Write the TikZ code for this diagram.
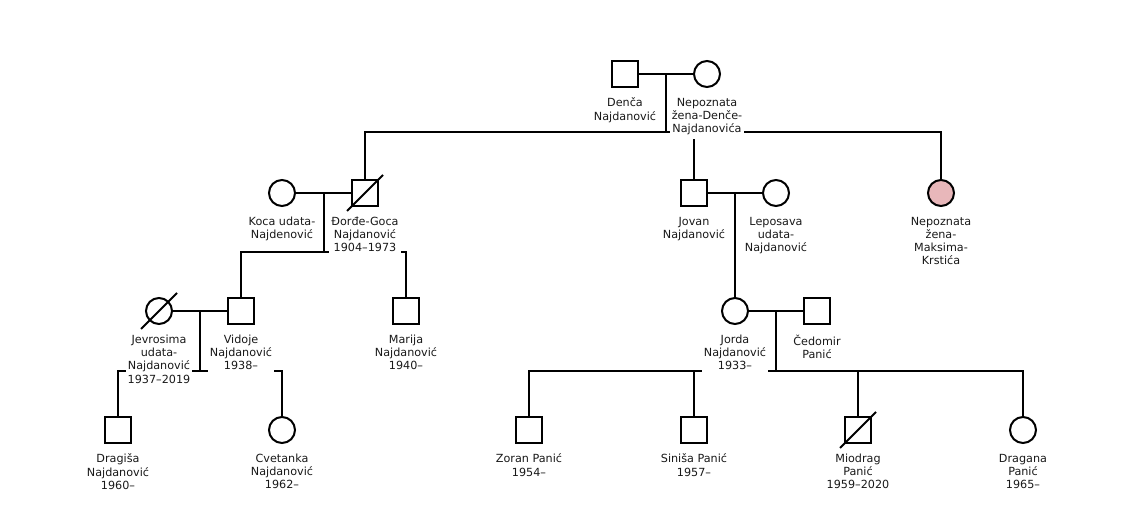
\documentclass[tikz,border=0pt]{standalone}
\usepackage{fontspec}
\setmainfont{DejaVu Sans}
\definecolor{pinkf}{RGB}{232,183,186}
\begin{document}
\begin{tikzpicture}[x=0.75pt,y=-0.75pt,
  line width=1.5pt,
  male/.style={draw=black,rectangle,minimum size=19.5pt,inner sep=0pt,line width=1.5pt},
  female/.style={draw=black,circle,minimum size=19.5pt,inner sep=0pt,line width=1.5pt},
  lbl/.style={fill=white,align=center,inner xsep=1.5pt,inner ysep=1.5pt,anchor=north,
    font=\fontsize{8.4}{9.9}\selectfont,text=black!90},
  rel/.style={draw=black,line width=1.5pt},
  dead/.style={draw=black,line width=1.5pt}]
\useasboundingbox (0,0) rectangle (1140,506);

% persons
\node[male] (denca) at (625,74) {};
\node[female] (nep) at (707,74) {};
\node[female] (koca) at (282,193) {};
\node[male] (djordje) at (365,193) {};
\node[male] (jovan) at (694,193) {};
\node[female] (lepo) at (776,193) {};
\node[female,fill=pinkf] (nepm) at (941,193) {};
\node[female] (jevro) at (159,311) {};
\node[male] (vidoje) at (241,311) {};
\node[male] (marija) at (406,311) {};
\node[female] (jorda) at (735,311) {};
\node[male] (cedomir) at (817,311) {};
\node[male] (dragisa) at (118,430) {};
\node[female] (cvetanka) at (282,430) {};
\node[male] (zoran) at (529,430) {};
\node[male] (sinisa) at (694,430) {};
\node[male] (miodrag) at (858,430) {};
\node[female] (dragana) at (1023,430) {};

% junctions
\coordinate (m1) at (666,74);
\coordinate (b1) at (666,132);
\coordinate (m2) at (324,193);
\coordinate (b2) at (324,252);
\coordinate (m3) at (735,193);
\coordinate (m4) at (200,311);
\coordinate (b4) at (200,371);
\coordinate (m5) at (776,311);
\coordinate (b5) at (776,371);

% connectors
\draw[rel] (denca) -- (nep);
\draw[rel] (m1) -- (b1);
\draw[rel] (djordje.north) |- (b1) -| (nepm.north);
\draw[rel] (jovan.north) -- (jovan.north |- b1);

\draw[rel] (koca) -- (djordje);
\draw[rel] (m2) -- (b2);
\draw[rel] (vidoje.north) |- (b2) -| (marija.north);

\draw[rel] (jovan) -- (lepo);
\draw[rel] (m3) -- (jorda.north);

\draw[rel] (jevro) -- (vidoje);
\draw[rel] (m4) -- (b4);
\draw[rel] (dragisa.north) |- (b4) -| (cvetanka.north);

\draw[rel] (jorda) -- (cedomir);
\draw[rel] (m5) -- (b5);
\draw[rel] (zoran.north) |- (b5) -| (dragana.north);
\draw[rel] (sinisa.north) -- (sinisa.north |- b5);
\draw[rel] (miodrag.north) -- (miodrag.north |- b5);

% labels
\node[lbl] (ldenca) at (625,95) {Denča\\Najdanović\strut};
\node[lbl] (lnep) at (707,95) {Nepoznata\\žena-Denče-\\Najdanovića\strut};
\node[lbl] (lkoca) at (282,214) {Koca udata-\\Najdenović\strut};
\node[lbl] (ldjordje) at (365,214) {Đorđe-Goca\\Najdanović\\1904–1973\strut};
\node[lbl] (ljovan) at (694,214) {Jovan\\Najdanović\strut};
\node[lbl] (llepo) at (776,214) {Leposava\\udata-\\Najdanović\strut};
\node[lbl] (lnepm) at (941,214) {Nepoznata\\žena-\\Maksima-\\Krstića\strut};
\node[lbl] (ljevro) at (159,332) {Jevrosima\\udata-\\Najdanović\\1937–2019\strut};
\node[lbl] (lvidoje) at (241,332) {Vidoje\\Najdanović\\1938–\strut};
\node[lbl] (lmarija) at (406,332) {Marija\\Najdanović\\1940–\strut};
\node[lbl] (ljorda) at (735,332) {Jorda\\Najdanović\\1933–\strut};
\node[lbl] (lcedomir) at (817,332) {Čedomir\\Panić\strut};
\node[lbl] (ldragisa) at (118,451) {Dragiša\\Najdanović\\1960–\strut};
\node[lbl] (lcvetanka) at (282,451) {Cvetanka\\Najdanović\\1962–\strut};
\node[lbl] (lzoran) at (529,451) {Zoran Panić\\1954–\strut};
\node[lbl] (lsinisa) at (694,451) {Siniša Panić\\1957–\strut};
\node[lbl] (lmiodrag) at (858,451) {Miodrag\\Panić\\1959–2020\strut};
\node[lbl] (ldragana) at (1023,451) {Dragana\\Panić\\1965–\strut};

% deceased marks
\draw[dead] ([shift={(-18,18)}]djordje.center) -- ([shift={(18,-18)}]djordje.center);
\draw[dead] ([shift={(-18,18)}]jevro.center) -- ([shift={(18,-18)}]jevro.center);
\draw[dead] ([shift={(-18,18)}]miodrag.center) -- ([shift={(18,-18)}]miodrag.center);
\end{tikzpicture}
\end{document}
